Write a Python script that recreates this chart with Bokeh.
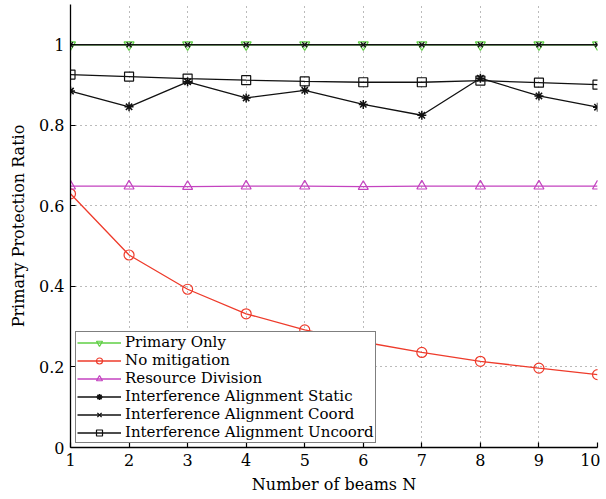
from bokeh.plotting import figure
from bokeh.models import Range1d, FixedTicker, Legend, LegendItem
from bokeh.embed import file_html
from bokeh.resources import INLINE

N = [1, 2, 3, 4, 5, 6, 7, 8, 9, 10]
primary_only = [1, 1, 1, 1, 1, 1, 1, 1, 1, 1]
no_mitigation = [0.630, 0.478, 0.393, 0.332, 0.292, 0.262, 0.236, 0.214, 0.197, 0.181]
resource_division = [0.649, 0.649, 0.648, 0.649, 0.649, 0.648, 0.649, 0.649, 0.649, 0.649]
ia_static = [0.885, 0.846, 0.908, 0.868, 0.887, 0.852, 0.825, 0.917, 0.873, 0.845]
ia_coord = [1, 1, 1, 1, 1, 1, 1, 1, 1, 1]
ia_uncoord = [0.926, 0.921, 0.916, 0.912, 0.909, 0.907, 0.907, 0.911, 0.906, 0.901]
x_ticks = [1, 2, 3, 4, 5, 6, 7, 8, 9, 10]
y_ticks = [0, 0.2, 0.4, 0.6, 0.8, 1]
y_tick_labels = ["0", "0.2", "0.4", "0.6", "0.8", "1"]

FONT = "DejaVu Serif"

p = figure(width=600, height=499, output_backend="svg", toolbar_location=None,
           x_range=Range1d(1, 10), y_range=Range1d(0, 1.1),
           min_border_left=70, min_border_right=3, min_border_top=4, min_border_bottom=52)
p.outline_line_color = None
p.background_fill_color = "white"

for ax in (p.xaxis[0], p.yaxis[0]):
    ax.major_tick_in = 5
    ax.major_tick_out = 0
    ax.minor_tick_in = 0
    ax.minor_tick_out = 0
    ax.axis_line_width = 1.3
    ax.major_tick_line_width = 1.2
    ax.major_label_text_font = FONT
    ax.major_label_text_font_size = "16px"
    ax.major_label_text_color = "black"
    ax.axis_label_text_font = FONT
    ax.axis_label_text_font_size = "16px"
    ax.axis_label_text_font_style = "normal"
    ax.axis_label_text_color = "black"

p.xaxis.ticker = FixedTicker(ticks=x_ticks)
p.yaxis.ticker = FixedTicker(ticks=y_ticks)
p.yaxis.major_label_overrides = {t: l for t, l in zip(y_ticks, y_tick_labels)}
p.xaxis.axis_label = "Number of beams N"
p.yaxis.axis_label = "Primary Protection Ratio"
p.xaxis.major_label_standoff = 6
p.yaxis.major_label_standoff = 6
p.xaxis.axis_label_standoff = 6
p.yaxis.axis_label_standoff = 8

for g in (p.xgrid[0], p.ygrid[0]):
    g.grid_line_color = "#777777"
    g.grid_line_dash = "1 4"
    g.grid_line_width = 1

green = "#5fcf45"
red = "#ee3b2b"
magenta = "#c443c0"
black = "#111111"

items = []
r1 = p.line(N, primary_only, line_color=green, line_width=1.3)
m1 = p.scatter(N, primary_only, marker="inverted_triangle", size=10, fill_color=None, line_color=green, line_width=1.2)
items.append(LegendItem(label="Primary Only", renderers=[r1, m1]))

r2 = p.line(N, no_mitigation, line_color=red, line_width=1.3)
m2 = p.scatter(N, no_mitigation, marker="circle", size=10, fill_color=None, line_color=red, line_width=1.2)
items.append(LegendItem(label="No mitigation", renderers=[r2, m2]))

r3 = p.line(N, resource_division, line_color=magenta, line_width=1.3)
m3 = p.scatter(N, resource_division, marker="triangle", size=10, fill_color=None, line_color=magenta, line_width=1.2)
items.append(LegendItem(label="Resource Division", renderers=[r3, m3]))

r4 = p.line(N, ia_static, line_color=black, line_width=1.3)
m4 = p.scatter(N, ia_static, marker="asterisk", size=9, fill_color=None, line_color=black, line_width=1.5)
items.append(LegendItem(label="Interference Alignment Static", renderers=[r4, m4]))

r5 = p.line(N, ia_coord, line_color=black, line_width=1.3)
m5 = p.scatter(N, ia_coord, marker="x", size=7, fill_color=None, line_color=black, line_width=1.3)
items.append(LegendItem(label="Interference Alignment Coord", renderers=[r5, m5]))

r6 = p.line(N, ia_uncoord, line_color=black, line_width=1.3)
m6 = p.scatter(N, ia_uncoord, marker="square", size=9, fill_color=None, line_color=black, line_width=1.2)
items.append(LegendItem(label="Interference Alignment Uncoord", renderers=[r6, m6]))

legend = Legend(items=items, location=(5, 4))
legend.border_line_color = "black"
legend.border_line_width = 1.5
legend.background_fill_alpha = 1
legend.label_text_font = FONT
legend.label_text_font_size = "15px"
legend.label_text_color = "black"
legend.label_height = 15
legend.label_standoff = 4
legend.glyph_width = 44
legend.glyph_height = 15
legend.spacing = 0
legend.padding = 1
legend.margin = 0
p.add_layout(legend, "center")

open("out.html", "w").write(file_html(p, INLINE))
